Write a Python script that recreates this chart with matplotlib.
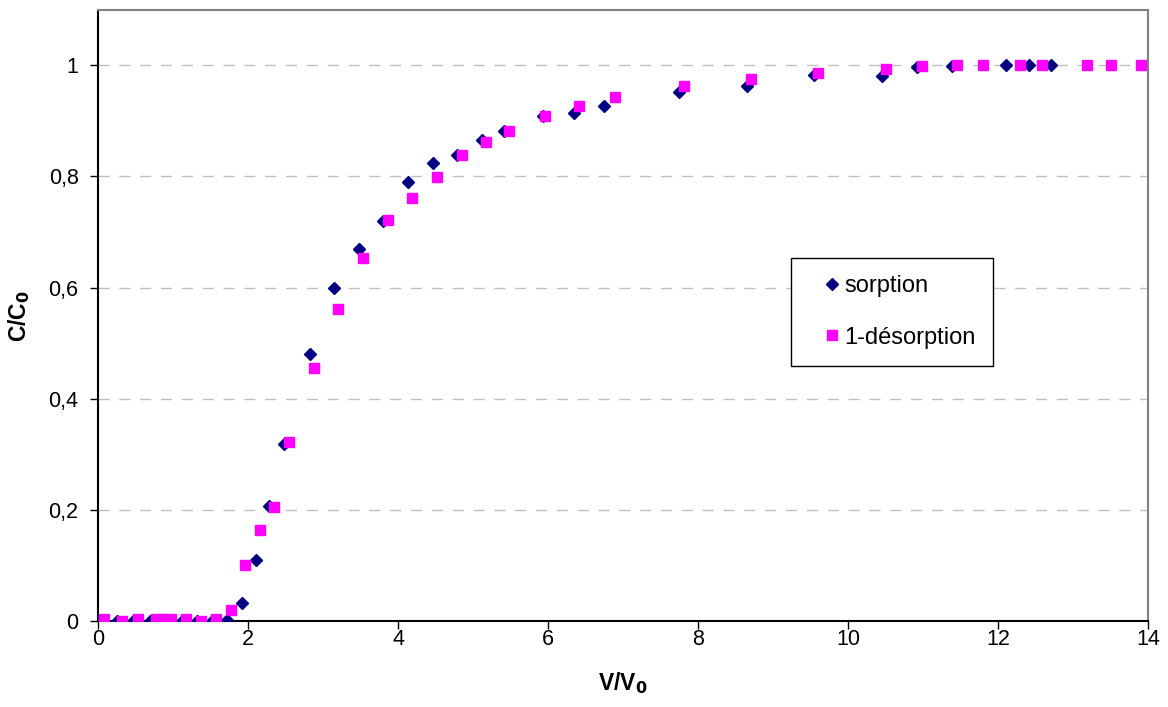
import matplotlib.pyplot as plt
from matplotlib.ticker import FuncFormatter

# sorption (diamonds)
sorp_x = [0.0, 0.25, 0.47, 0.69, 0.8, 0.93, 1.12, 1.32, 1.52, 1.72, 1.92, 2.1, 2.28,
          2.48, 2.83, 3.15, 3.48, 3.8, 4.13, 4.46, 4.78, 5.12, 5.41, 5.93, 6.34, 6.75,
          7.75, 8.65, 9.55, 10.45, 10.92, 11.38, 12.1, 12.41, 12.71]
sorp_y = [0.0, 0.0, 0.0, 0.0, 0.0, 0.0, 0.0, 0.0, 0.0, 0.002, 0.032, 0.11, 0.207,
          0.318, 0.48, 0.6, 0.67, 0.72, 0.789, 0.824, 0.839, 0.866, 0.881, 0.908, 0.914, 0.927,
          0.951, 0.963, 0.983, 0.981, 0.997, 0.998, 1.0, 1.0, 1.0]

# 1-desorption (squares)
des_x = [0.08, 0.32, 0.54, 0.78, 0.85, 0.98, 1.18, 1.38, 1.57, 1.77, 1.96, 2.16, 2.35,
         2.55, 2.88, 3.2, 3.53, 3.86, 4.19, 4.52, 4.85, 5.17, 5.48, 5.96, 6.41, 6.89,
         7.81, 8.71, 9.6, 10.51, 10.98, 11.45, 11.8, 12.29, 12.59, 13.19, 13.5, 13.9]
des_y = [0.003, 0.0, 0.003, 0.003, 0.003, 0.003, 0.003, 0.0, 0.003, 0.019, 0.1, 0.164, 0.205,
         0.322, 0.456, 0.561, 0.653, 0.721, 0.761, 0.799, 0.838, 0.862, 0.882, 0.908, 0.927, 0.942,
         0.963, 0.975, 0.986, 0.993, 0.998, 1.0, 1.0, 1.0, 1.0, 1.0, 1.0, 1.0]

x_ticks = [0, 2, 4, 6, 8, 10, 12, 14]
y_ticks = [0, 0.2, 0.4, 0.6, 0.8, 1.0]

plt.rcParams['font.family'] = ['Liberation Sans', 'DejaVu Sans']

fig = plt.figure(figsize=(11.68, 7.07), dpi=100)
ax = fig.add_axes([0.0839, 0.1216, 0.899, 0.864])

for y in y_ticks[1:]:
    ax.axhline(y, color='#c0c0c0', lw=1, dashes=(8, 7), zorder=0)

ax.plot(sorp_x, sorp_y, ls='none', marker='D', ms=6.5, color='#000080',
        label='sorption', zorder=3)
ax.plot(des_x, des_y, ls='none', marker='s', ms=7.5, color='#ff00ff',
        label='1-désorption', zorder=4)

ax.set_xlim(0, 14)
ax.set_ylim(0, 1.099)
ax.set_xticks(x_ticks)
ax.set_yticks(y_ticks)

def comma(v, pos):
    s = ('%g' % v)
    return s.replace('.', ',')

ax.xaxis.set_major_formatter(FuncFormatter(comma))
ax.yaxis.set_major_formatter(FuncFormatter(comma))
ax.tick_params(labelsize=15.5, length=6, width=1, direction='out')
ax.tick_params(axis='x', pad=0)
ax.tick_params(axis='y', pad=8)

for side in ['top', 'right']:
    ax.spines[side].set_color('#808080')
    ax.spines[side].set_linewidth(1.5)
for side in ['left', 'bottom']:
    ax.spines[side].set_color('black')
    ax.spines[side].set_linewidth(1.5)

ax.set_xlabel('V/V$_\\mathbf{0}$', fontsize=16.5, fontweight='bold', labelpad=14)
ax.set_ylabel('C/C$_\\mathbf{0}$', fontsize=16.5, fontweight='bold', labelpad=12)

leg = ax.legend(loc='upper left', bbox_to_anchor=(0.66, 0.594), fontsize=17,
                frameon=True, fancybox=False, edgecolor='black', framealpha=1,
                labelspacing=1.25, borderpad=0.72, handlelength=2.0, handletextpad=-0.45,
                borderaxespad=0)
leg.get_frame().set_linewidth(1.0)

fig.savefig('out.png', dpi=100)
